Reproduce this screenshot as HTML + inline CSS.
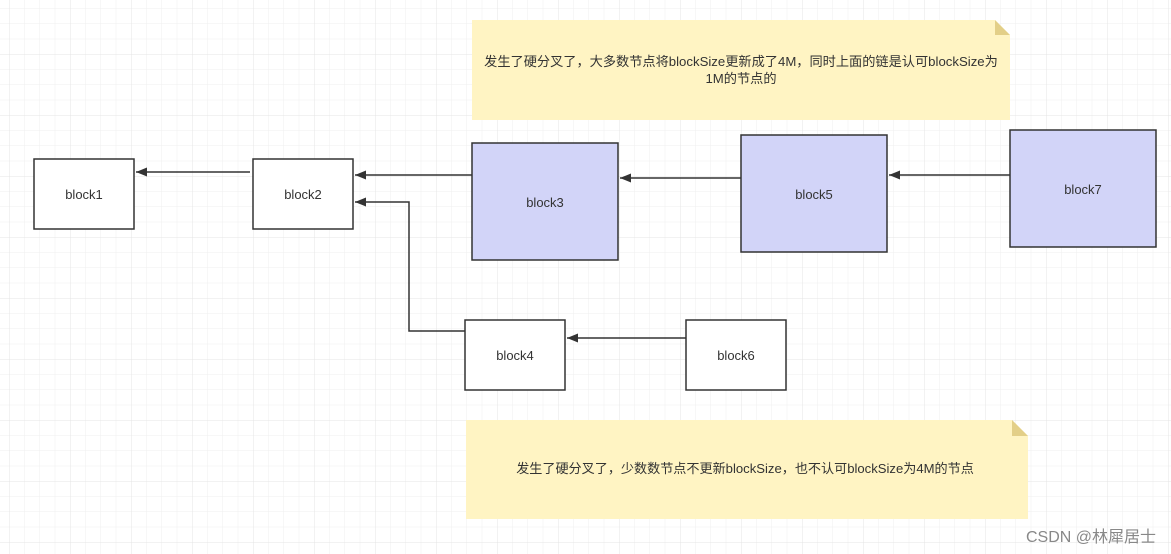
<!DOCTYPE html>
<html><head><meta charset="utf-8"><style>
body{margin:0;width:1171px;height:554px;overflow:hidden;background:#fff;font-family:"Liberation Sans","Noto Sans CJK SC",sans-serif;}
</style></head><body>
<svg width="1171" height="554" xmlns="http://www.w3.org/2000/svg" style="position:absolute;left:0;top:0">
<defs>
<pattern id="minor" x="9" y="54" width="15.25" height="15.25" patternUnits="userSpaceOnUse"><path d="M0 0H15.25M0 0V15.25" stroke="#efefef" stroke-width="1" fill="none"/></pattern>
<pattern id="major" x="9" y="54" width="61" height="61" patternUnits="userSpaceOnUse"><path d="M0 0H61M0 0V61" stroke="#e4e4e4" stroke-width="1" fill="none"/></pattern>
<marker id="a" markerWidth="12" markerHeight="9" refX="11" refY="4.5" orient="auto" markerUnits="userSpaceOnUse"><path d="M0 0L11 4.5L0 9Z" fill="#333"/></marker>
</defs>
<rect width="1171" height="554" fill="url(#minor)"/>
<rect width="1171" height="554" fill="url(#major)"/>
<g font-family="Liberation Sans, Noto Sans CJK SC, sans-serif" font-size="13" fill="#333">
<path d="M472 20H995L1010 35V120H472Z" fill="#fff4c3"/><path d="M995 20L1010 35H995Z" fill="#e3cf88"/>
<text x="741" y="66" text-anchor="middle" font-size="13.2">发生了硬分叉了，大多数节点将blockSize更新成了4M，同时上面的链是认可blockSize为</text>
<text x="741" y="83" text-anchor="middle" font-size="13.2">1M的节点的</text>
<path d="M466 420H1012L1028 436V519H466Z" fill="#fff4c3"/><path d="M1012 420L1028 436H1012Z" fill="#e3cf88"/>
<text x="745" y="473" text-anchor="middle" font-size="13.1">发生了硬分叉了，少数数节点不更新blockSize，也不认可blockSize为4M的节点</text>
<g stroke="#333" stroke-width="1.5">
<rect x="34" y="159" width="100" height="70" fill="#fff"/>
<rect x="253" y="159" width="100" height="70" fill="#fff"/>
<rect x="472" y="143" width="146" height="117" fill="#d2d4f8"/>
<rect x="741" y="135" width="146" height="117" fill="#d2d4f8"/>
<rect x="1010" y="130" width="146" height="117" fill="#d2d4f8"/>
<rect x="465" y="320" width="100" height="70" fill="#fff"/>
<rect x="686" y="320" width="100" height="70" fill="#fff"/>
<g fill="none">
<path d="M250 172H136" marker-end="url(#a)"/>
<path d="M472 175H355" marker-end="url(#a)"/>
<path d="M741 178H620" marker-end="url(#a)"/>
<path d="M1010 175H889" marker-end="url(#a)"/>
<path d="M465 331H409V202H355" marker-end="url(#a)"/>
<path d="M686 338H567" marker-end="url(#a)"/>
</g></g>
<text x="84" y="199" text-anchor="middle">block1</text>
<text x="303" y="199" text-anchor="middle">block2</text>
<text x="545" y="207" text-anchor="middle">block3</text>
<text x="814" y="199" text-anchor="middle">block5</text>
<text x="1083" y="194" text-anchor="middle">block7</text>
<text x="515" y="360" text-anchor="middle">block4</text>
<text x="736" y="360" text-anchor="middle">block6</text>
<text x="1156" y="542" text-anchor="end" font-size="16" fill="#888">CSDN @林犀居士</text>
</g></svg>
</body></html>
